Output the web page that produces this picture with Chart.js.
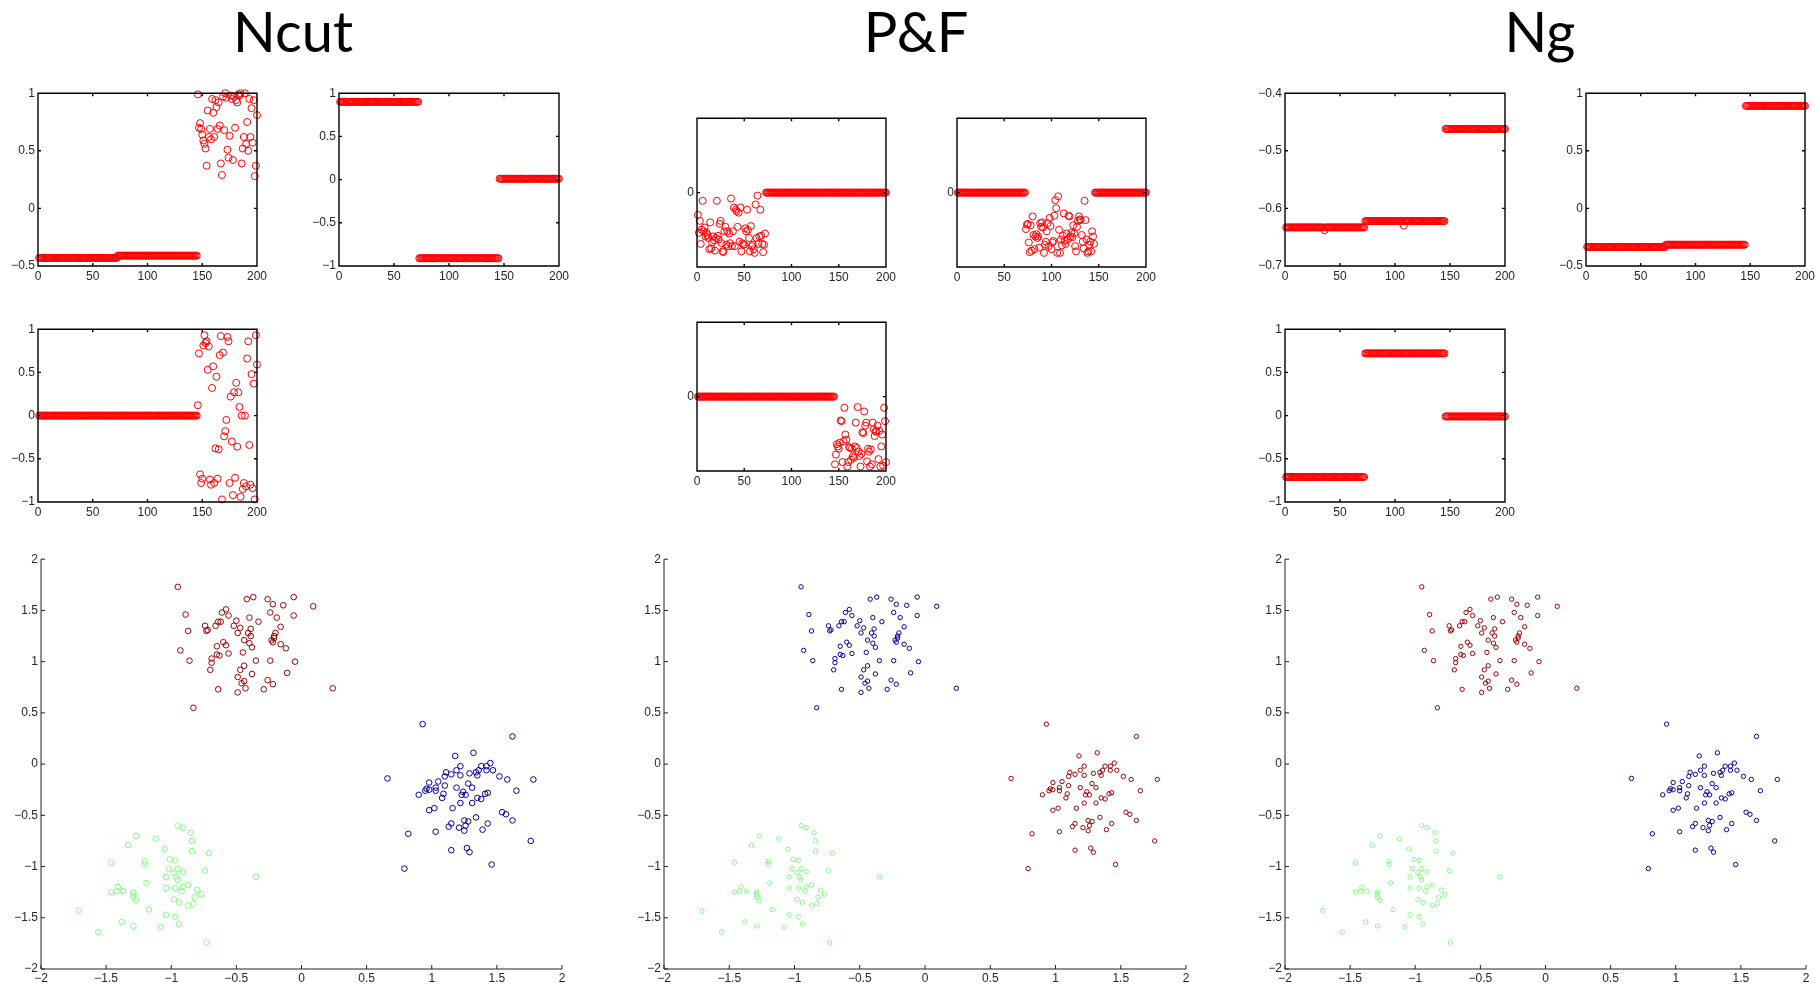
<!DOCTYPE html>
<html>
<head>
<meta charset="utf-8">
<script src="https://cdn.jsdelivr.net/npm/chart.js@4.4.0/dist/chart.umd.min.js"></script>
<style>
  body { margin:0; background:#fff; width:1818px; height:987px; position:relative; overflow:hidden; }
  .ttl { position:absolute; top:3px; font-family:Lato, "DejaVu Sans", sans-serif; font-size:56px; line-height:56px; color:#000; transform:translateX(-50%); white-space:nowrap; }
  .plot { position:absolute; }
</style>
</head>
<body>
<div class="ttl" style="left:293px">Ncut</div>
<div class="ttl" style="left:916px">P&amp;F</div>
<div class="ttl" style="left:1540px">Ng</div>
<script>
// index groups of the eigenvector plots
var groupStart = [1, 73, 146];
var groupEnd   = [72, 145, 200];

// Ncut eigenvectors (level per group, null = scattered values below)
var ncut1Levels = [-0.43, -0.41, null];
var ncut1Tail = [0.99,0.70,0.74,0.69,0.64,0.59,0.56,0.52,0.37,0.85,0.62,0.69,0.60,0.95,0.83,0.62,0.94,0.88,0.69,0.92,
  0.72,0.39,0.29,0.97,0.68,1.00,0.96,0.51,0.44,0.63,0.98,0.95,0.42,0.97,0.70,0.94,0.92,0.99,0.98,1.00,
  0.39,0.52,0.62,1.00,0.56,0.75,0.50,0.95,0.62,0.87,0.57,0.94,0.28,0.37,0.81];
var ncut2Levels = [0.90, -0.91, 0.01];
var ncut3Levels = [0, 0, null];
var ncut3Tail = [0.12,0.72,-0.68,-0.78,-0.73,0.81,0.93,0.84,0.86,0.53,0.80,-0.74,-0.80,0.32,0.57,-0.78,-0.38,0.45,-0.73,-0.39,
  0.70,0.92,-0.97,0.73,-0.24,-0.18,-0.05,0.91,0.86,-0.78,0.22,-0.30,-0.92,0.27,-0.72,0.38,-0.36,0.27,0.10,-0.94,
  0.00,-0.85,-0.78,0.00,-0.82,0.66,0.86,-0.34,-0.80,0.48,-0.84,0.37,-0.97,0.93,0.59];

// P&F eigenvectors
var pf1Levels = [null, 0, 0];
var pf1Head = [-0.30,-0.54,-0.38,-0.69,-0.50,-0.11,-0.52,-0.47,-0.59,-0.54,-0.57,-0.61,-0.76,-0.40,-0.75,-0.67,-0.59,-0.64,-0.78,-0.61,
  -0.11,-0.58,-0.63,-0.42,-0.38,-0.68,-0.79,-0.80,-0.52,-0.46,-0.70,-0.52,-0.72,-0.55,-0.68,-0.08,-0.72,-0.52,-0.20,-0.72,
  -0.23,-0.25,-0.46,-0.27,-0.66,-0.20,-0.79,-0.68,-0.70,-0.70,-0.48,-0.52,-0.23,-0.50,-0.61,-0.79,-0.45,-0.72,-0.70,-0.76,
  -0.81,-0.16,-0.61,-0.04,-0.69,-0.59,-0.23,-0.58,-0.69,-0.80,-0.70,-0.55];
var pf2Levels = [0, null, 0];
var pf2Mid = [-0.49,-0.43,-0.42,-0.67,-0.80,-0.44,-0.78,-0.32,-0.57,-0.76,-0.59,-0.56,-0.61,-0.59,-0.74,-0.41,-0.46,-0.40,-0.47,-0.81,
  -0.70,-0.66,-0.52,-0.41,-0.72,-0.34,-0.45,-0.76,-0.67,-0.65,-0.31,-0.10,-0.21,-0.81,-0.05,-0.50,-0.81,-0.63,-0.71,-0.58,
  -0.28,-0.65,-0.69,-0.55,-0.63,-0.31,-0.32,-0.59,-0.54,-0.60,-0.44,-0.55,-0.72,-0.79,-0.46,-0.38,-0.32,-0.36,-0.37,-0.57,
  -0.66,-0.75,-0.11,-0.37,-0.63,-0.81,-0.79,-0.70,-0.66,-0.79,-0.52,-0.59,-0.69];
var pf3Levels = [0, 0, null];
var pf3Tail = [-0.91,-0.78,-0.64,-0.67,-0.70,-0.62,-0.32,-0.33,-0.88,-0.60,-0.15,-0.51,-0.58,-0.94,-0.88,-0.68,-0.69,-0.85,-0.70,-0.80,
  -0.82,-0.67,-0.35,-0.69,-0.14,-0.74,-0.80,-0.94,-0.77,-0.48,-0.49,-0.20,-0.39,-0.35,-0.87,-0.70,-0.74,-0.94,-0.71,-0.91,
  -0.35,-0.44,-0.53,-0.47,-0.47,-0.39,-0.84,-0.46,-0.94,-0.67,-0.51,-0.93,-0.15,-0.33,-0.88];

// Ng eigenvectors
var ng1Levels = [-0.633, -0.622, -0.462];
var ng1Outliers = {36: -0.638, 108: -0.630};
var ng2Levels = [-0.335, -0.315, 0.89];
var ng3Levels = [-0.71, 0.72, -0.01];

// 2-D data points, by cluster
var topCluster = [[-0.95,1.73],[-0.89,1.46],[-0.87,1.30],[-0.93,1.11],[-0.86,1.01],[-0.83,0.55],[-0.74,1.35],[-0.73,1.30],[-0.72,1.31],
  [-0.69,1.03],[-0.69,0.99],[-0.70,0.92],[-0.66,1.35],[-0.65,1.15],[-0.65,1.07],[-0.63,1.06],[-0.64,1.39],[-0.62,1.39],[-0.61,1.48],
  [-0.58,1.51],[-0.56,1.45],[-0.60,1.19],[-0.58,1.16],[-0.56,1.08],[-0.64,0.73],[-0.52,1.35],[-0.50,1.40],[-0.49,1.28],[-0.47,1.33],
  [-0.44,1.21],[-0.45,1.09],[-0.47,0.92],[-0.49,0.85],[-0.46,0.79],[-0.44,0.81],[-0.43,0.74],[-0.49,0.70],[-0.44,0.96],[-0.42,1.61],
  [-0.37,1.63],[-0.40,1.43],[-0.39,1.32],[-0.41,1.28],[-0.39,1.25],[-0.40,1.18],[-0.38,1.14],[-0.38,0.88],[-0.35,1.01],[-0.33,1.39],
  [-0.29,0.73],[-0.26,1.61],[-0.22,1.56],[-0.24,1.48],[-0.19,1.43],[-0.16,1.34],[-0.21,1.25],[-0.20,1.28],[-0.23,1.21],[-0.22,1.19],
  [-0.21,1.23],[-0.24,1.01],[-0.26,0.82],[-0.22,0.78],[-0.16,1.17],[-0.12,1.13],[-0.14,1.55],[-0.06,1.63],[-0.06,1.45],[-0.05,1.00],
  [-0.11,0.89],[0.09,1.54],[0.24,0.74]];
var rightCluster = [[0.93,0.39],[1.62,0.27],[0.66,-0.14],[1.18,0.08],[1.32,0.11],[1.22,-0.02],[1.19,-0.06],[1.11,-0.08],[1.15,-0.10],
  [1.22,-0.11],[1.29,-0.09],[1.34,-0.08],[1.36,-0.06],[1.38,-0.02],[1.42,-0.02],[1.45,0.01],[1.42,-0.06],[1.47,-0.06],[1.35,-0.11],
  [1.52,-0.12],[1.58,-0.15],[1.78,-0.15],[1.65,-0.26],[0.98,-0.18],[1.05,-0.17],[1.10,-0.12],[1.10,-0.21],[1.03,-0.23],[0.96,-0.24],
  [0.98,-0.25],[0.95,-0.26],[1.03,-0.26],[0.90,-0.30],[1.09,-0.29],[1.08,-0.33],[1.19,-0.23],[1.28,-0.19],[1.31,-0.23],[1.24,-0.27],
  [1.23,-0.30],[1.26,-0.30],[1.35,-0.33],[1.38,-0.34],[1.41,-0.29],[1.43,-0.28],[1.22,-0.38],[1.31,-0.38],[0.98,-0.45],[1.02,-0.43],
  [1.16,-0.43],[1.34,-0.52],[1.54,-0.47],[1.57,-0.49],[1.62,-0.55],[1.43,-0.58],[1.25,-0.55],[1.28,-0.56],[1.26,-0.60],[1.15,-0.58],
  [1.13,-0.61],[1.21,-0.62],[1.25,-0.65],[1.39,-0.64],[0.82,-0.68],[1.03,-0.66],[1.76,-0.75],[1.15,-0.84],[1.27,-0.82],[1.29,-0.86],
  [1.46,-0.98],[0.79,-1.02]];
var bottomCluster = [[-0.95,-0.60],[-0.91,-0.62],[-0.85,-0.67],[-0.84,-0.75],[-0.84,-0.85],[-0.71,-0.87],[-1.27,-0.70],[-1.12,-0.73],
  [-1.33,-0.79],[-1.05,-0.83],[-1.46,-0.96],[-1.20,-0.95],[-1.20,-0.98],[-1.01,-0.93],[-0.97,-0.94],[-1.02,-1.02],[-0.98,-1.06],
  [-0.95,-1.02],[-0.91,-1.05],[-1.04,-1.10],[-0.96,-1.10],[-0.95,-1.13],[-0.74,-1.04],[-0.35,-1.10],[-1.19,-1.16],[-1.41,-1.20],
  [-1.42,-1.24],[-1.46,-1.25],[-1.37,-1.24],[-1.29,-1.25],[-1.29,-1.27],[-1.29,-1.30],[-1.27,-1.33],[-1.04,-1.21],[-0.97,-1.21],
  [-0.91,-1.20],[-0.92,-1.24],[-0.87,-1.18],[-0.80,-1.23],[-0.77,-1.27],[-0.82,-1.30],[-0.83,-1.36],[-0.87,-1.38],[-0.94,-1.35],
  [-0.98,-1.32],[-1.17,-1.42],[-1.71,-1.43],[-1.38,-1.54],[-1.56,-1.64],[-1.29,-1.58],[-1.08,-1.59],[-1.04,-1.47],[-0.97,-1.49],
  [-0.94,-1.56],[-0.73,-1.74]];

var darkRed = '#9a0000', darkBlue = '#00009a', lightGreen = '#80ff80';
// cluster colours per method: [top, right, bottom]
var ncutColors = [darkRed, darkBlue, lightGreen];
var pfColors   = [darkBlue, darkRed, lightGreen];
var ngColors   = [darkRed, darkBlue, lightGreen];

var PADL = 50, PADT = 10, PADR = 12, PADB = 30;

function expand(levels, noisy, overrides) {
  var pts = [];
  for (var g = 0; g < 3; g++) {
    for (var i = groupStart[g]; i <= groupEnd[g]; i++) {
      var v = levels[g] !== null ? levels[g] : noisy[i - groupStart[g]];
      if (overrides && overrides[i] !== undefined) v = overrides[i];
      if (v !== undefined) pts.push({x: i, y: v});
    }
  }
  return pts;
}

function fmt(v) {
  var s = String(Math.round(v * 10) / 10);
  return s.replace('-', '\u2212');
}

// MATLAB-like axes: box and inward tick marks
var matlabAxes = {
  id: 'matlabAxes',
  afterDraw: function(chart, args, opts) {
    var ctx = chart.ctx, a = chart.chartArea;
    var xs = chart.scales.x, ys = chart.scales.y;
    var L = opts.tickLen || 3;
    ctx.save();
    ctx.strokeStyle = opts.color || '#000';
    ctx.lineWidth = opts.lineWidth || 1;
    ctx.beginPath();
    if (opts.box) {
      ctx.rect(a.left, a.top, a.right - a.left, a.bottom - a.top);
    } else {
      ctx.moveTo(a.left, a.top); ctx.lineTo(a.left, a.bottom); ctx.lineTo(a.right, a.bottom);
    }
    xs.ticks.forEach(function(t) {
      var px = xs.getPixelForValue(t.value);
      ctx.moveTo(px, a.bottom); ctx.lineTo(px, a.bottom - L);
      if (opts.box) { ctx.moveTo(px, a.top); ctx.lineTo(px, a.top + L); }
    });
    ys.ticks.forEach(function(t) {
      var py = ys.getPixelForValue(t.value);
      ctx.moveTo(a.left, py); ctx.lineTo(a.left + L, py);
      if (opts.box) { ctx.moveTo(a.right, py); ctx.lineTo(a.right - L, py); }
    });
    ctx.stroke();
    ctx.restore();
  }
};

function makeCanvas(left, top, w, h) {
  var d = document.createElement('div');
  d.className = 'plot';
  d.style.left = (left - PADL) + 'px';
  d.style.top = (top - PADT) + 'px';
  d.style.width = (w + PADL + PADR) + 'px';
  d.style.height = (h + PADT + PADB) + 'px';
  var c = document.createElement('canvas');
  d.appendChild(c);
  document.body.appendChild(d);
  return c;
}

function axisOpts(min, max, step, fixed, onlyZero, pad) {
  var o = {
    type: 'linear', min: min, max: max,
    grid: {display: false, drawTicks: false},
    border: {display: false},
    ticks: {stepSize: step, padding: pad, autoSkip: false, maxRotation: 0,
            color: '#262626', font: {family: '"Liberation Sans", Arial, sans-serif', size: 12},
            callback: function(v) { return fmt(v); }},
    afterFit: function(s) { if (s.isHorizontal()) s.height = PADB; else s.width = PADL; }
  };
  if (onlyZero) o.afterBuildTicks = function(s) { s.ticks = [{value: 0}]; };
  return o;
}

function eigPlot(box, data, yMin, yMax, yStep, onlyZero) {
  var c = makeCanvas(box[0], box[1], box[2], box[3]);
  new Chart(c, {
    type: 'scatter',
    data: {datasets: [{
      data: data, showLine: false, clip: false,
      pointStyle: 'circle', pointRadius: 3.5, pointBorderWidth: 1,
      borderColor: '#ff0000', backgroundColor: 'rgba(0,0,0,0)'
    }]},
    options: {
      responsive: true, maintainAspectRatio: false, animation: false,
      layout: {padding: {top: PADT, right: PADR, left: 0, bottom: 0}},
      plugins: {legend: {display: false}, tooltip: {enabled: false},
                matlabAxes: {box: true, tickLen: 3, lineWidth: 1.4}},
      scales: {
        x: axisOpts(0, 200, 50, null, false, 3),
        y: axisOpts(yMin, yMax, yStep, null, onlyZero, 3)
      }
    },
    plugins: [matlabAxes]
  });
}

function clusterPlot(box, colors, radius) {
  var c = makeCanvas(box[0], box[1], box[2], box[3]);
  var clusters = [topCluster, rightCluster, bottomCluster];
  var ds = clusters.map(function(cl, k) {
    return {
      data: cl.map(function(p) { return {x: p[0], y: p[1]}; }),
      showLine: false, clip: false, pointStyle: 'circle',
      pointRadius: radius, pointBorderWidth: 1,
      borderColor: colors[k], backgroundColor: 'rgba(0,0,0,0)'
    };
  });
  new Chart(c, {
    type: 'scatter',
    data: {datasets: ds},
    options: {
      responsive: true, maintainAspectRatio: false, animation: false,
      layout: {padding: {top: PADT, right: PADR, left: 0, bottom: 0}},
      plugins: {legend: {display: false}, tooltip: {enabled: false},
                matlabAxes: {box: false, tickLen: 4, lineWidth: 1, color: '#222'}},
      scales: {
        x: axisOpts(-2, 2, 0.5, null, false, 2),
        y: axisOpts(-2, 2, 0.5, null, false, 3)
      }
    },
    plugins: [matlabAxes]
  });
}

// Ncut column
eigPlot([38, 93, 220, 173], expand(ncut1Levels, ncut1Tail), -0.5, 1, 0.5);
eigPlot([339, 93, 221, 173], expand(ncut2Levels, []), -1, 1, 0.5);
eigPlot([38, 329, 220, 173], expand(ncut3Levels, ncut3Tail), -1, 1, 0.5);
// P&F column
eigPlot([697, 118, 190, 149], expand(pf1Levels, pf1Head), -1, 1, 1, true);
eigPlot([957, 118, 190, 149], expand(pf2Levels, pf2Mid), -1, 1, 1, true);
eigPlot([697, 322, 190, 149], expand(pf3Levels, pf3Tail), -1, 1, 1, true);
// Ng column
eigPlot([1285, 93, 221, 173], expand(ng1Levels, [], ng1Outliers), -0.7, -0.4, 0.1);
eigPlot([1586, 93, 220, 173], expand(ng2Levels, []), -0.5, 1, 0.5);
eigPlot([1285, 329, 221, 173], expand(ng3Levels, []), -1, 1, 0.5);

// clustered data
clusterPlot([41, 559, 521, 410], ncutColors, 2.8);
clusterPlot([664, 559, 522, 410], pfColors, 2.2);
clusterPlot([1285, 559, 521, 410], ngColors, 2.2);
</script>
</body>
</html>
